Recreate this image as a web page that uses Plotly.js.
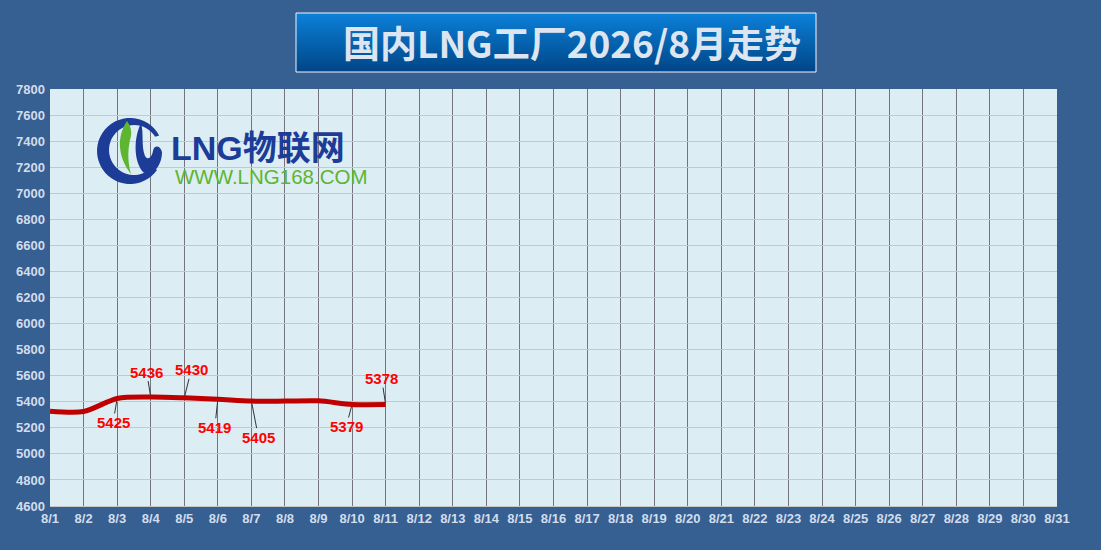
<!DOCTYPE html>
<html>
<head>
<meta charset="utf-8">
<script src="https://cdn.plot.ly/plotly-3.0.1.min.js"></script>
<style>
html,body{margin:0;padding:0;background:#365f92;}
#chart{width:1101px;height:550px;}
</style>
</head>
<body>
<div id="chart"></div>
<script>
// ---- data ----
const categories = ["8/1","8/2","8/3","8/4","8/5","8/6","8/7","8/8","8/9","8/10","8/11","8/12","8/13","8/14","8/15","8/16","8/17","8/18","8/19","8/20","8/21","8/22","8/23","8/24","8/25","8/26","8/27","8/28","8/29","8/30","8/31"];
const prices = [5328,5325,5425,5436,5430,5419,5405,5405,5407,5379,5378,null,null,null,null,null,null,null,null,null,null,null,null,null,null,null,null,null,null,null,null];
const labeledDays = ["8/3","8/4","8/5","8/6","8/7","8/10","8/11"];
const titleText = "国内LNG工厂2026/8月走势";
const logoName = "LNG物联网";
const logoUrl = "WWW.LNG168.COM";

// ---- layout geometry (pixels) ----
const W = 1101, H = 550;
const PL = 50, PR = 1057, PT = 89, PB = 506;
function fx(x){ return (x - PL) / (PR - PL); }
function fy(y){ return (PB - y) / (PB - PT); }
function pathPx(s){
  return s.replace(/(-?\d+(?:\.\d+)?),(-?\d+(?:\.\d+)?)/g, function(m,a,b){
    return fx(parseFloat(a)).toFixed(5) + "," + fy(parseFloat(b)).toFixed(5);
  });
}
function arcPts(cx, cy, r, a0, a1, n){
  const pts = [];
  for (let i = 0; i <= n; i++){
    const a = (a0 + (a1 - a0) * i / n) * Math.PI / 180;
    pts.push((cx + r * Math.cos(a)).toFixed(2) + "," + (cy - r * Math.sin(a)).toFixed(2));
  }
  return pts;
}

const shapes = [];
// title gradient box
const bx0 = 296, bx1 = 816, by0 = 13, by1 = 72;
const topC = [12,128,216], botC = [0,70,136];
const strips = 40;
for (let i = 0; i < strips; i++){
  const t = i / (strips - 1);
  const c = topC.map((v,k) => Math.round(v + (botC[k] - v) * t));
  const ya = by0 + (by1 - by0) * i / strips;
  const yb = by0 + (by1 - by0) * (i + 1) / strips + 0.6;
  shapes.push({type:"rect", xref:"paper", yref:"paper", x0:fx(bx0), x1:fx(bx1), y0:fy(ya), y1:fy(Math.min(yb,by1)),
    fillcolor:"rgb("+c.join(",")+")", line:{width:0}, layer:"above"});
}
shapes.push({type:"rect", xref:"paper", yref:"paper", x0:fx(bx0), x1:fx(bx1), y0:fy(by0), y1:fy(by1),
  fillcolor:"rgba(0,0,0,0)", line:{color:"#f2f5fa", width:1}, layer:"above"});

// logo glyph
const ringOuter = arcPts(130,151,33,28,325,40);
const ringInner = arcPts(134,150,25,318,32,40);
shapes.push({type:"path", xref:"paper", yref:"paper", layer:"above",
  path: pathPx("M " + ringOuter.join(" L ") + " L " + ringInner.join(" L ") + " Z"),
  fillcolor:"#1c3c98", line:{width:0}});
shapes.push({type:"path", xref:"paper", yref:"paper", layer:"above",
  path: pathPx("M 127,121 C 117,136 117,156 131,174 C 127,160 128,146 131,136 C 132,130 130,125 127,121 Z"),
  fillcolor:"#5db530", line:{width:0}});
shapes.push({type:"path", xref:"paper", yref:"paper", layer:"above",
  path: pathPx("M 141,123 C 134,137 133,160 143,172 C 152,178 162,166 162,152 C 160,145 154,145 153,151 C 152,157 148,161 145,156 C 141,146 144,133 141,123 Z"),
  fillcolor:"#1c3c98", line:{width:0}});

// ---- annotations ----
const annotations = [];
annotations.push({xref:"paper", yref:"paper", x:fx(572), y:fy(42), xanchor:"center", yanchor:"middle",
  text:"<b>"+titleText+"</b>", showarrow:false,
  font:{family:"Noto Sans CJK SC, sans-serif", size:37, color:"#dde5f0"}});
annotations.push({xref:"paper", yref:"paper", x:fx(169), y:fy(148), xanchor:"left", yanchor:"middle",
  text:"<b>"+logoName+"</b>", showarrow:false,
  font:{family:"Liberation Sans, Noto Sans CJK SC, sans-serif", size:34, color:"#1c3c98"}});
annotations.push({xref:"paper", yref:"paper", x:fx(173), y:fy(176), xanchor:"left", yanchor:"middle",
  text:logoUrl, showarrow:false,
  font:{family:"Liberation Sans, Arial, sans-serif", size:20.5, color:"#5db530"}});

const labelOffsets = {"8/3":[-4,24],"8/4":[-4,-25],"8/5":[7,-28],"8/6":[-3,28],"8/7":[7,36],"8/10":[-6,22],"8/11":[-4,-26]};
labeledDays.forEach(d => {
  const i = categories.indexOf(d);
  const off = labelOffsets[d];
  annotations.push({x:d, y:prices[i], xref:"x", yref:"y", text:"<b>"+prices[i]+"</b>",
    showarrow:true, arrowhead:0, arrowwidth:1, arrowcolor:"#333333", ax:off[0], ay:off[1], standoff:2,
    font:{family:"Liberation Sans, Arial, sans-serif", size:15, color:"#ff0000"}, borderpad:0});
});

const tickFont = {family:"Liberation Sans, Arial, sans-serif", size:13, color:"#d2ddec", weight:"bold"};

const trace = {
  x: categories, y: prices, type:"scatter", mode:"lines",
  line:{color:"#c00000", width:5, shape:"spline", smoothing:0.8},
  connectgaps:false, hoverinfo:"skip"
};

const layout = {
  width:W, height:H,
  paper_bgcolor:"#365f92", plot_bgcolor:"#dcedf3",
  margin:{l:PL, r:W-PR, t:PT, b:H-PB, pad:0},
  showlegend:false,
  xaxis:{type:"category", range:[0,30], tickmode:"linear", tick0:0, dtick:1,
    showgrid:true, gridcolor:"#75757f", gridwidth:1, zeroline:false,
    showline:true, linecolor:"#c8c8c8", linewidth:1, mirror:false,
    ticks:"", tickfont:tickFont, fixedrange:true},
  yaxis:{range:[4600,7800], dtick:200, tick0:4600,
    showgrid:true, gridcolor:"#e2b9c9", gridwidth:1, zeroline:false,
    showline:false, ticks:"", tickfont:tickFont, ticklabelstandoff:4, fixedrange:true},
  shapes:shapes, annotations:annotations
};

Plotly.newPlot("chart", [trace], layout, {staticPlot:true, displayModeBar:false});
</script>
</body>
</html>
